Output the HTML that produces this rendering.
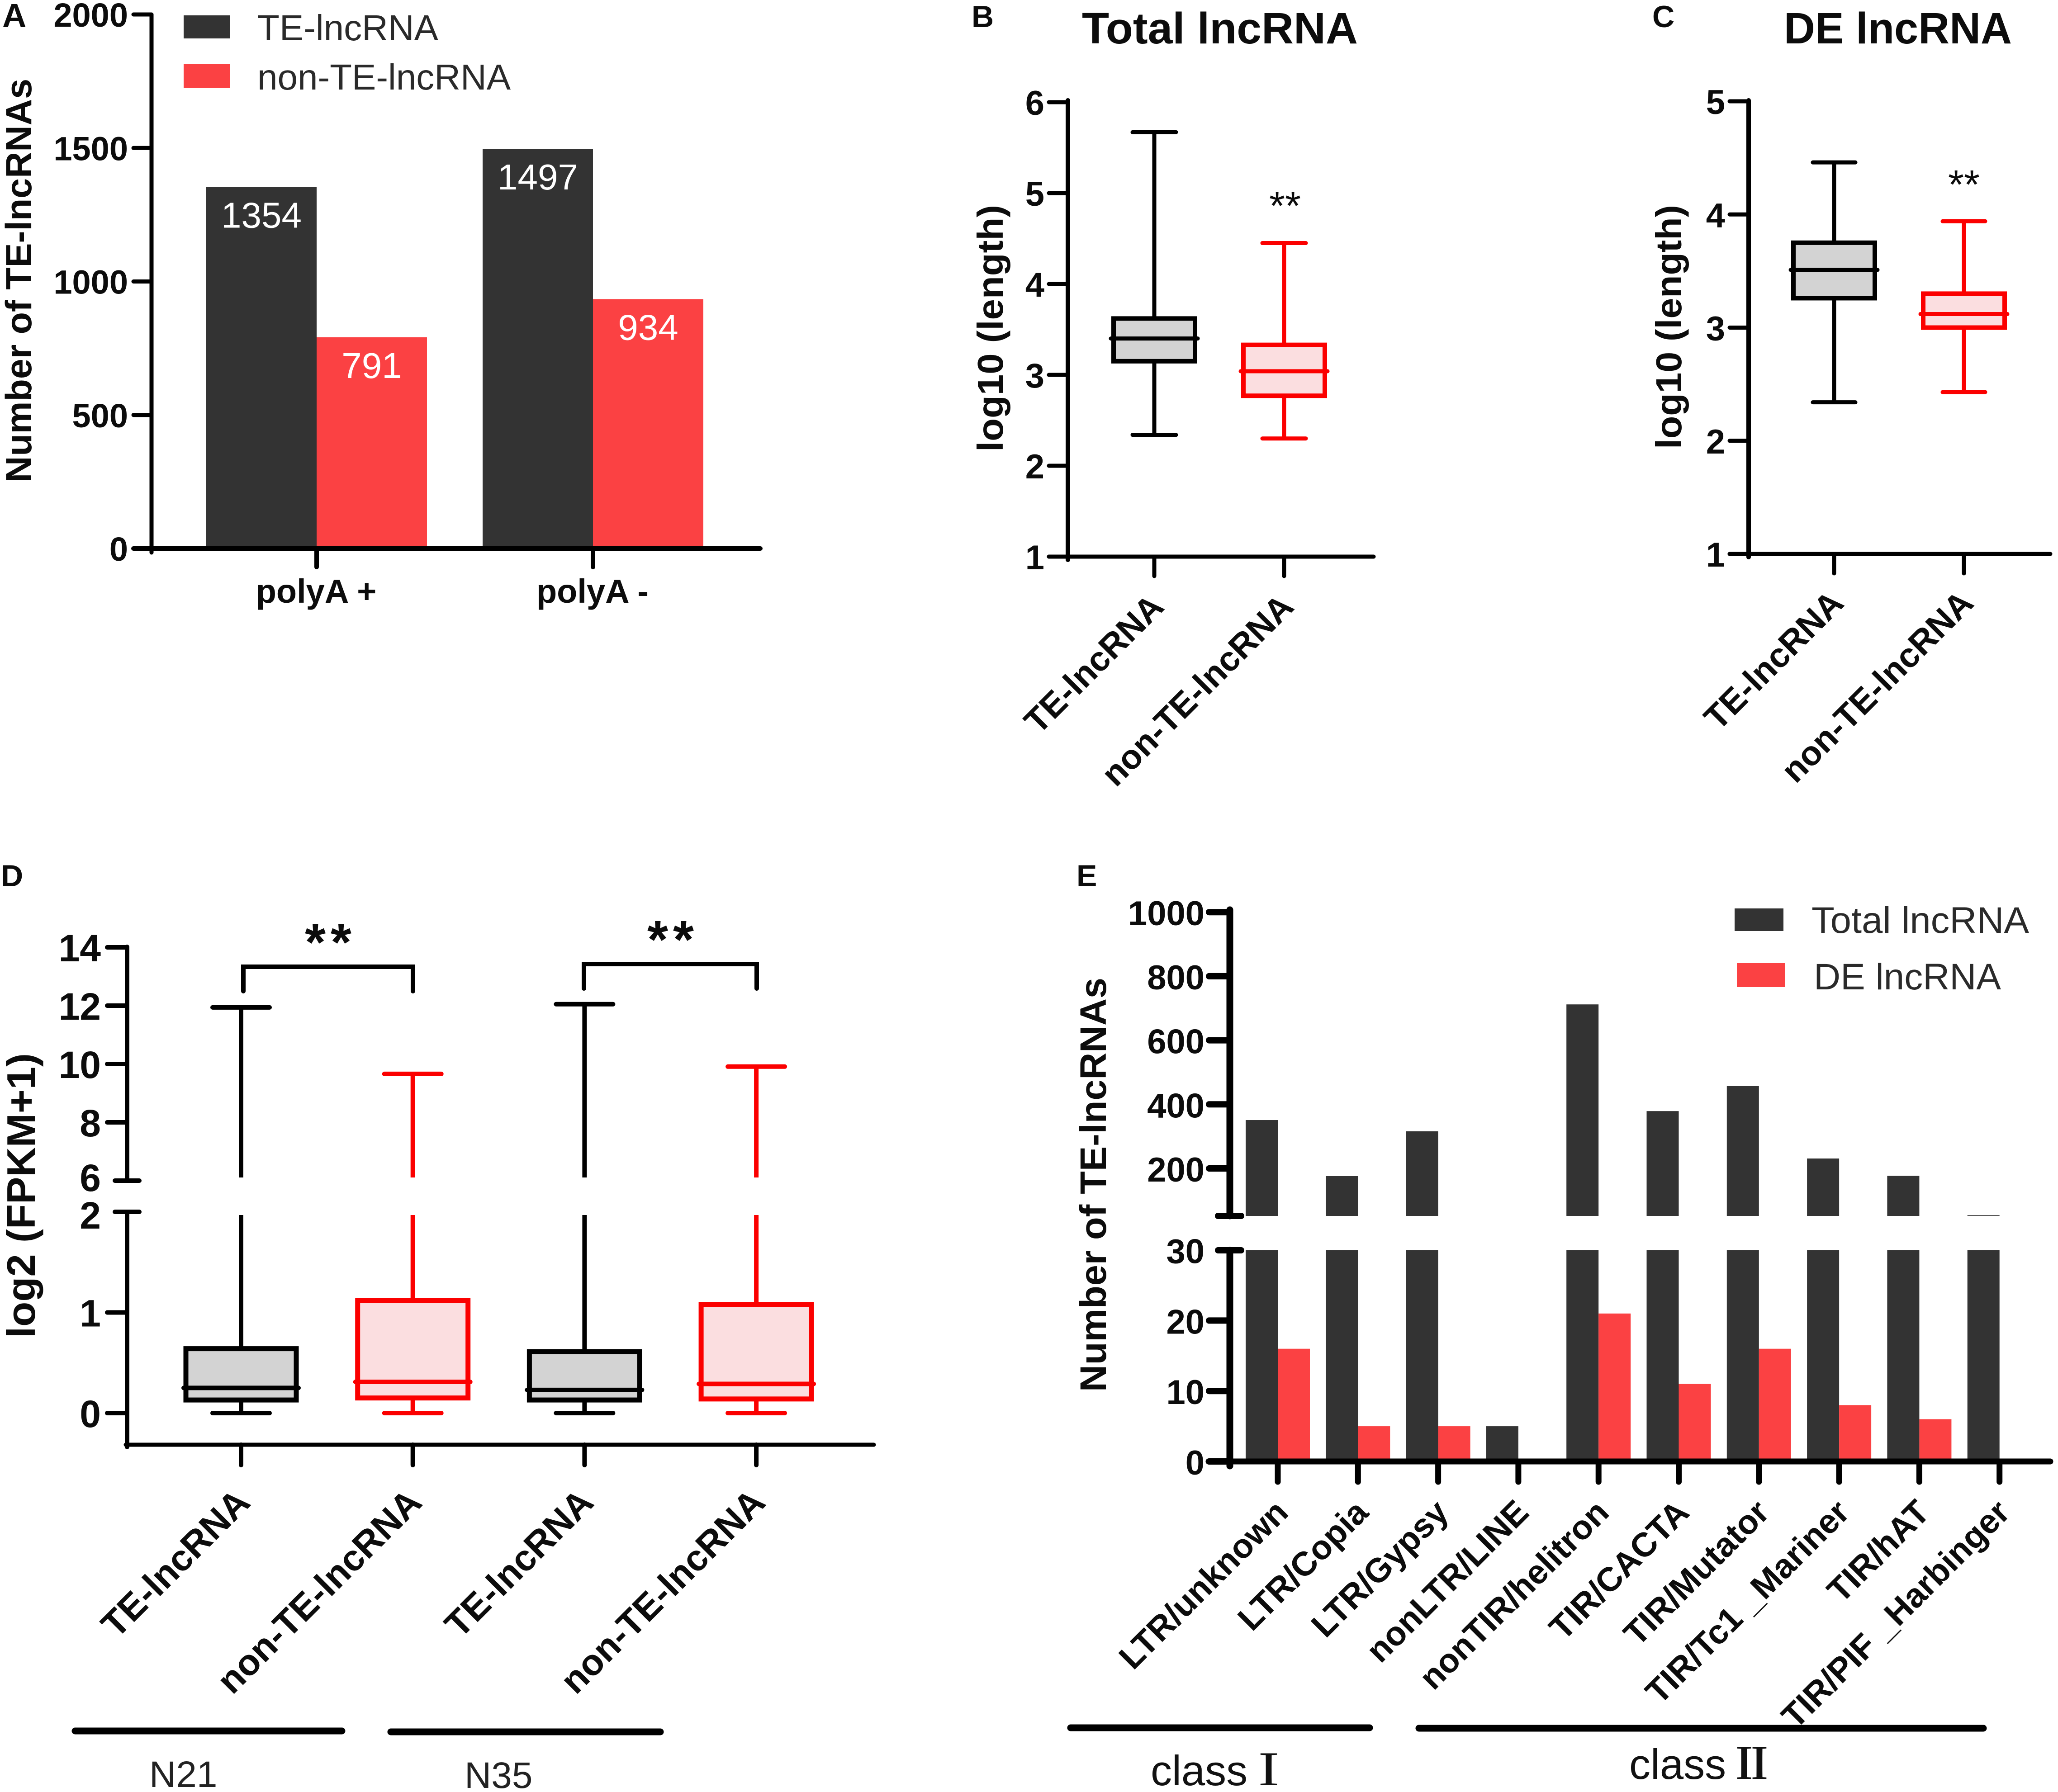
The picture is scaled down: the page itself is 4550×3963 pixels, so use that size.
<!DOCTYPE html>
<html lang="en">
<head>
<meta charset="utf-8">
<title>TE-lncRNA figure</title>
<style>
html,body{margin:0;padding:0;background:#fff;}
svg{display:block;}
text{font-family:"Liberation Sans","Noto Sans CJK JP",sans-serif;fill:#0c0c0c;}
.b{font-weight:700;}
</style>
</head>
<body>
<svg id="fig" xmlns="http://www.w3.org/2000/svg" width="4550" height="3963" viewBox="0 0 4550 3963">
<rect x="0" y="0" width="4550" height="3963" fill="#fff"/>

<text class="b" x="5" y="60" font-size="74">A</text>
<text class="b" x="2148" y="60" font-size="68">B</text>
<text class="b" x="3653" y="60" font-size="68">C</text>
<text class="b" x="2" y="1960" font-size="68">D</text>
<text class="b" x="2380" y="1960" font-size="68">E</text>

<text class="b" font-size="81" textLength="893" lengthAdjust="spacingAndGlyphs" transform="translate(69,1067) rotate(-90)">Number of TE-lncRNAs</text>
<rect x="406" y="34" width="103" height="51" fill="#333"/>
<rect x="406" y="141" width="103" height="53" fill="#fb4143"/>
<text x="569" y="89" font-size="80" style="fill:#2a2a2a">TE-lncRNA</text>
<text x="569" y="198" font-size="80" style="fill:#2a2a2a">non-TE-lncRNA</text>

<text class="b" x="2392" y="96" font-size="97" textLength="610" lengthAdjust="spacingAndGlyphs">Total lncRNA</text>
<text class="b" font-size="80" textLength="546" lengthAdjust="spacingAndGlyphs" transform="translate(2217,999) rotate(-90)">log10 (length)</text>
<text x="2841" y="486" font-size="90" text-anchor="middle">**</text>

<text class="b" x="3944" y="96" font-size="97" textLength="504" lengthAdjust="spacingAndGlyphs">DE lncRNA</text>
<text class="b" font-size="80" textLength="540" lengthAdjust="spacingAndGlyphs" transform="translate(3717,993) rotate(-90)">log10 (length)</text>
<text x="4342" y="439" font-size="90" text-anchor="middle">**</text>

<text class="b" font-size="88" textLength="630" lengthAdjust="spacingAndGlyphs" transform="translate(77,2959) rotate(-90)">log2 (FPKM+1)</text>
<text class="b" x="731" y="2124" font-size="118" letter-spacing="11" text-anchor="middle">**</text>
<text class="b" x="1488" y="2118" font-size="118" letter-spacing="11" text-anchor="middle">**</text>
<path d="M538 2192V2138H913V2192" fill="none" stroke="#000" stroke-width="10" stroke-linecap="round"/>
<path d="M1291 2186V2132H1673V2186" fill="none" stroke="#000" stroke-width="10" stroke-linecap="round"/>
<line x1="166" y1="3828" x2="756" y2="3828" stroke="#000" stroke-width="15" stroke-linecap="round"/>
<line x1="864" y1="3830" x2="1460" y2="3830" stroke="#000" stroke-width="15" stroke-linecap="round"/>
<text x="330" y="3952" font-size="82" style="fill:#222">N21</text>
<text x="1027" y="3954" font-size="82" style="fill:#222">N35</text>

<text class="b" font-size="82" textLength="916" lengthAdjust="spacingAndGlyphs" transform="translate(2445,3078) rotate(-90)">Number of TE-lncRNAs</text>
<rect x="3835" y="2009" width="108" height="50" fill="#333"/>
<rect x="3840" y="2130" width="107" height="53" fill="#fb4143"/>
<text x="4005" y="2063" font-size="82" textLength="481" lengthAdjust="spacingAndGlyphs" style="fill:#2a2a2a">Total lncRNA</text>
<text x="4010" y="2188" font-size="82" textLength="414" lengthAdjust="spacingAndGlyphs" style="fill:#2a2a2a">DE lncRNA</text>
<line x1="2367" y1="3821" x2="3028" y2="3821" stroke="#000" stroke-width="15" stroke-linecap="round"/>
<line x1="3137" y1="3822" x2="4385" y2="3822" stroke="#000" stroke-width="15" stroke-linecap="round"/>
<text x="2544" y="3948" font-size="94" style="fill:#111">class <tspan x="2805" text-anchor="middle" style="font-family:'Noto Serif CJK SC',serif;font-weight:700">Ⅰ</tspan></text>
<text x="3602" y="3934" font-size="94" style="fill:#111">class <tspan x="3873" text-anchor="middle" style="font-family:'Noto Serif CJK SC',serif;font-weight:700">Ⅱ</tspan></text>

<g id="marks"></g>
</svg>

<script>
// Panel A data
const aCategories = ['polyA +', 'polyA -'];
const aTE = [1354, 1497];
const aNon = [791, 934];
const aTicks = [0, 500, 1000, 1500, 2000];

// Panel B data
const boxLabels = ['TE-lncRNA', 'non-TE-lncRNA'];
const bHi = [5.67, 4.45];
const bQ3 = [3.62, 3.33];
const bMed = [3.40, 3.04];
const bQ1 = [3.15, 2.77];
const bLo = [2.34, 2.30];
const bTicks = [1, 2, 3, 4, 5, 6];

// Panel C data
const cHi = [4.46, 3.94];
const cQ3 = [3.75, 3.30];
const cMed = [3.51, 3.12];
const cQ1 = [3.26, 3.00];
const cLo = [2.34, 2.43];
const cTicks = [1, 2, 3, 4, 5];

// Panel D data
const dLabels = ['TE-lncRNA', 'non-TE-lncRNA', 'TE-lncRNA', 'non-TE-lncRNA'];
const dHi = [11.94, 9.66, 12.05, 9.91];
const dQ3 = [0.64, 1.12, 0.61, 1.08];
const dMed = [0.25, 0.31, 0.23, 0.29];
const dQ1 = [0.13, 0.15, 0.13, 0.14];
const dLo = [0, 0, 0, 0];
const dTicks = [0, 1, 2, 6, 8, 10, 12, 14];

// Panel E data
const eCategories = ['LTR/unknown', 'LTR/Copia', 'LTR/Gypsy', 'nonLTR/LINE', 'nonTIR/helitron', 'TIR/CACTA', 'TIR/Mutator', 'TIR/Tc1_Mariner', 'TIR/hAT', 'TIR/PIF_Harbinger'];
const eTotal = [351, 176, 316, 5, 712, 379, 457, 231, 177, 54];
const eDE = [16, 5, 5, 0, 21, 11, 16, 8, 6, 0];
const eTicks = [0, 10, 20, 30, 200, 400, 600, 800, 1000];

const NS = 'http://www.w3.org/2000/svg';
const root = document.getElementById('marks');
const DARK = '#333333';
const RED = '#fb4143';
const BOXRED = '#fb0000';

function draw(tag, attrs, name) {
  const el = document.createElementNS(NS, tag);
  for (const k in attrs) el.setAttribute(k, attrs[k]);
  
  
  root.appendChild(el);
  return el;
}
function line(x1, y1, x2, y2, color, w, name, cap) {
  return draw('line', {x1: x1, y1: y1, x2: x2, y2: y2, stroke: color, 'stroke-width': w, 'stroke-linecap': cap || 'round'}, name);
}
function label(x, y, str, size, opts, name) {
  const o = opts || {};
  const a = {x: x, y: y, 'font-size': size, 'text-anchor': o.anchor || 'start'};
  if (o.bold) a['font-weight'] = '700';
  if (o.fill) a.style = 'fill:' + o.fill;
  const t = draw('text', a, name);
  t.textContent = str;
  return t;
}
function rotated(x, y, str, size, angle, name) {
  const a = {'font-size': size, 'font-weight': '700', 'text-anchor': 'end', transform: 'translate(' + x + ',' + y + ') rotate(' + angle + ')'};
  const t = draw('text', a, name);
  t.textContent = str;
  return t;
}
function bar(x, y0, y1, w, color, name) {
  return draw('rect', {x: x, y: Math.min(y0, y1), width: w, height: Math.abs(y1 - y0), fill: color}, name);
}
function box(xc, halfBox, halfCap, halfMed, q1, q3, med, hiY, loY, color, fill, sw, segs, name) {
  segs.forEach(function (s) { line(xc, s[0], xc, s[1], color, sw, name + '-whisker', 'butt'); });
  line(xc - halfCap, hiY, xc + halfCap, hiY, color, sw, name + '-upper-cap');
  line(xc - halfCap, loY, xc + halfCap, loY, color, sw, name + '-lower-cap');
  draw('rect', {x: xc - halfBox, y: q3, width: 2 * halfBox, height: q1 - q3, fill: fill, stroke: color, 'stroke-width': sw + 1}, name + '-box');
  line(xc - halfMed, med, xc + halfMed, med, color, sw, name + '-median');
}

/* ---------- Panel A ---------- */
const aY = function (v) { return 1213 - v * 0.5905; };
const aX = function (i) { return 700 + i * 611; };
aCategories.forEach(function (c, i) {
  bar(aX(i) - 244, aY(aTE[i]), aY(0), 244, DARK, 'bar-te-' + (i ? 'polya-minus' : 'polya-plus'));
  bar(aX(i), aY(aNon[i]), aY(0), 244, RED, 'bar-non-te-' + (i ? 'polya-minus' : 'polya-plus'));
  label(aX(i) - 122, aY(aTE[i]) + 90, String(aTE[i]), 80, {anchor: 'middle', fill: '#fff'}, 'value-te');
  label(aX(i) + 122, aY(aNon[i]) + 90, String(aNon[i]), 80, {anchor: 'middle', fill: '#fff'}, 'value-non-te');
  line(aX(i), aY(0), aX(i), 1254, '#000', 10, 'x-tick-a');
  label(aX(i) - 1, 1333, c, 74, {anchor: 'middle', bold: true}, 'x-label-a');
});
line(335, 33, 335, 1222, '#000', 9, 'y-axis-a');
line(295, aY(0), 1681, aY(0), '#000', 10, 'x-axis-a');
aTicks.forEach(function (t) {
  line(295, aY(t), 335, aY(t), '#000', 9, 'y-tick-a');
  label(283, aY(t) + 27, String(t), 74, {anchor: 'end', bold: true}, 'y-tick-label-a');
});

/* ---------- Panel B ---------- */
const bY = function (v) { return 1231 - (v - 1) * 201; };
const bX = function (i) { return 2552 + i * 287; };
boxLabels.forEach(function (lab, i) {
  const col = i ? BOXRED : '#000';
  const fill = i ? '#fbdee0' : '#d3d3d3';
  box(bX(i), 90, 48, 96, bY(bQ1[i]), bY(bQ3[i]), bY(bMed[i]), bY(bHi[i]), bY(bLo[i]), col, fill, 9,
    [[bY(bHi[i]), bY(bLo[i])]], 'box-b-' + (i ? 'non-te' : 'te'));
  line(bX(i), bY(1), bX(i), 1274, '#000', 9, 'x-tick-b');
  rotated(bX(i) + 25, 1346, lab, 76, -45, 'x-label-b');
});
line(2361, 222, 2361, 1238, '#000', 10, 'y-axis-b');
line(2319, bY(1), 3037, bY(1), '#000', 9, 'x-axis-b');
bTicks.forEach(function (t) {
  line(2319, bY(t), 2361, bY(t), '#000', 9, 'y-tick-b');
  label(2309, bY(t) + 28, String(t), 76, {anchor: 'end', bold: true}, 'y-tick-label-b');
});

/* ---------- Panel C ---------- */
const cY = function (v) { return 1225 - (v - 1) * 250.25; };
const cX = function (i) { return 4055 + i * 287; };
boxLabels.forEach(function (lab, i) {
  const col = i ? BOXRED : '#000';
  const fill = i ? '#fbdee0' : '#d3d3d3';
  box(cX(i), 90, 47, 96, cY(cQ1[i]), cY(cQ3[i]), cY(cMed[i]), cY(cHi[i]), cY(cLo[i]), col, fill, 9,
    [[cY(cHi[i]), cY(cLo[i])]], 'box-c-' + (i ? 'non-te' : 'te'));
  line(cX(i), cY(1), cX(i), 1268, '#000', 9, 'x-tick-c');
  rotated(cX(i) + 25, 1338, lab, 76, -45, 'x-label-c');
});
line(3866, 222, 3866, 1232, '#000', 10, 'y-axis-c');
line(3824, cY(1), 4533, cY(1), '#000', 9, 'x-axis-c');
cTicks.forEach(function (t) {
  line(3824, cY(t), 3866, cY(t), '#000', 9, 'y-tick-c');
  label(3814, cY(t) + 28, String(t), 76, {anchor: 'end', bold: true}, 'y-tick-label-c');
});

/* ---------- Panel D (broken axis) ---------- */
const dY = function (v) { return v >= 6 ? 2611 - (v - 6) * 64.5 : 3125 - v * 222.5; };
const dX = function (i) { return 533 + i * 379.7; };
dLabels.forEach(function (lab, i) {
  const col = i % 2 ? BOXRED : '#000';
  const fill = i % 2 ? '#fbdee0' : '#d3d3d3';
  box(dX(i), 122, 63, 127, dY(dQ1[i]), dY(dQ3[i]), dY(dMed[i]), dY(dHi[i]), dY(dLo[i]), col, fill, 10,
    [[dY(dHi[i]), dY(6) - 7], [dY(2) + 7, dY(dLo[i])]], 'box-d-' + (i + 1));
  line(dX(i), 3195, dX(i), 3240, '#000', 10, 'x-tick-d');
  rotated(dX(i) + 24, 3327, lab, 81, -45, 'x-label-d');
});
line(281, 2094, 281, 2611, '#000', 10, 'y-axis-d-upper');
line(281, 2680, 281, 3200, '#000', 10, 'y-axis-d-lower');
line(278, 3195, 1932, 3195, '#000', 9, 'x-axis-d');
dTicks.forEach(function (t) {
  const brk = t === 6 || t === 2;
  line(brk ? 254 : 237, dY(t), brk ? 308 : 281, dY(t), '#000', 10, 'y-tick-d');
  label(223, dY(t) + (t === 6 ? 23 : t === 2 ? 37 : 31), String(t), 84, {anchor: 'end', bold: true}, 'y-tick-label-d');
});

/* ---------- Panel E (broken axis) ---------- */
const eY = function (v) { return v > 30 ? 2584 - (v - 200) * 0.7085 : 3232 - v * 15.58; };
const eX = function (i) { return 2825 + i * 177.3; };
const eBreakY = 2689;
const eW = 71;
eCategories.forEach(function (c, i) {
  if (eTotal[i] > 30) {
    bar(eX(i) - eW, eY(30), eY(0), eW, DARK, 'bar-total-lower-' + c);
    bar(eX(i) - eW, eY(eTotal[i]), eBreakY, eW, DARK, 'bar-total-upper-' + c);
  } else {
    bar(eX(i) - eW, eY(eTotal[i]), eY(0), eW, DARK, 'bar-total-' + c);
  }
  if (eDE[i] > 0) bar(eX(i), eY(eDE[i]), eY(0), eW, RED, 'bar-de-' + c);
  line(eX(i), eY(0), eX(i), 3277, '#000', 13, 'x-tick-e');
  rotated(eX(i) + 27, 3349, c.replace('_', ' _'), 75, -45, 'x-label-e');
});
line(2719, 2012, 2719, 2689, '#000', 15, 'y-axis-e-upper');
line(2719, 2765, 2719, 3242, '#000', 15, 'y-axis-e-lower');
line(2672, 3232, 4533, 3232, '#000', 13, 'x-axis-e');
line(2693, 2689, 2744, 2689, '#000', 14, 'y-break-tick-upper');
line(2693, 2765, 2744, 2765, '#000', 14, 'y-break-tick-lower');
eTicks.forEach(function (t) {
  if (t !== 30) line(2673, eY(t), 2719, eY(t), '#000', 14, 'y-tick-e');
  label(2663, eY(t) + 29, String(t), 76, {anchor: 'end', bold: true}, 'y-tick-label-e');
});
</script>
</body>
</html>
